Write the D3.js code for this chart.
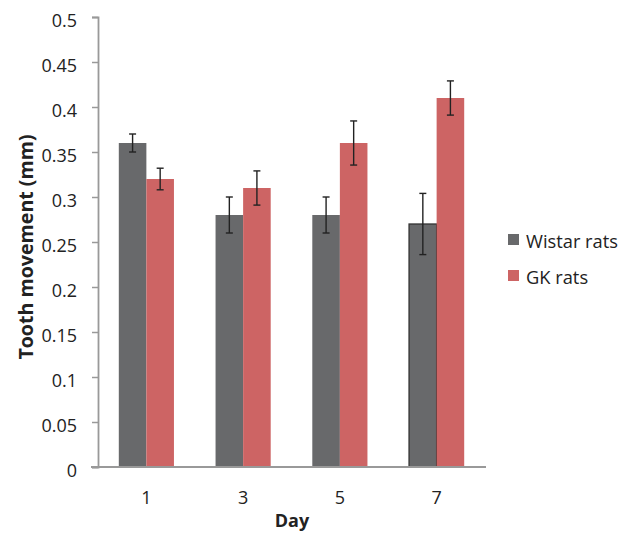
<!DOCTYPE html>
<html><head><meta charset="utf-8">
<script src="https://cdn.jsdelivr.net/npm/d3@7"></script>
<style>body{margin:0;background:#fff}svg{display:block}text{font-family:"Open Sans",sans-serif;fill:#222}</style>
</head><body>
<svg id="c" width="630" height="533"></svg>
<script>
const days = ["1","3","5","7"];
const seriesNames = ["Wistar rats","GK rats"];
const wistar = [0.36,0.28,0.28,0.27];
const wistarErr = [0.010,0.020,0.020,0.034];
const gk = [0.32,0.31,0.36,0.41];
const gkErr = [0.012,0.019,0.0245,0.019];
const yTicks = [0,0.05,0.1,0.15,0.2,0.25,0.3,0.35,0.4,0.45,0.5];
const colors = ["#68696b","#cd6464"];

const svg = d3.select("#c");
const y = d3.scaleLinear().domain([0,0.5]).range([467,17]);
const x = d3.scaleBand().domain(days).range([98,485]).paddingInner(0.43).paddingOuter(0.215);
const xs = d3.scaleBand().domain(seriesNames).range([0,x.bandwidth()]);

const data = [];
days.forEach((d,i)=>{
  data.push({day:d,s:seriesNames[0],v:wistar[i],e:wistarErr[i],c:colors[0]});
  data.push({day:d,s:seriesNames[1],v:gk[i],e:gkErr[i],c:colors[1]});
});

// bars
svg.append("g").selectAll("rect").data(data).join("rect")
  .attr("x",d=>x(d.day)+xs(d.s))
  .attr("y",d=>y(d.v))
  .attr("width",xs.bandwidth())
  .attr("height",d=>y(0)-y(d.v))
  .attr("fill",d=>d.c)
  .attr("stroke",d=> (d.day==="7"&&d.s==="Wistar rats")?"#333":"none")
  .attr("stroke-width",1.3);

// y axis
const yAxis = d3.axisLeft(y).tickValues(yTicks).tickSize(6).tickPadding(15).tickFormat(d=>String(+d.toFixed(2)));
const gy = svg.append("g").attr("transform","translate(98,0)").call(yAxis);
gy.select(".domain").attr("stroke","#999").attr("stroke-width",1.8);
gy.selectAll(".tick line").attr("stroke","#999").attr("stroke-width",1.5);
gy.selectAll(".tick text").attr("font-size",18).attr("fill","#222").attr("dy","0.5em")
  .attr("font-family","'Open Sans',sans-serif");

// x axis
const xAxis = d3.axisBottom(x).tickSize(0).tickPadding(24);
const gx = svg.append("g").attr("transform","translate(0,467)").call(xAxis);
gx.select(".domain").attr("stroke","#999").attr("stroke-width",1.8).attr("d","M91,0H486");
gx.selectAll(".tick text").attr("font-size",18).attr("fill","#222").attr("font-family","'Open Sans',sans-serif");

// error bars
const eb = svg.append("g").attr("stroke","#222").attr("stroke-width",1.4);
data.forEach(d=>{
  const cx = x(d.day)+xs(d.s)+xs.bandwidth()/2;
  eb.append("line").attr("x1",cx).attr("x2",cx).attr("y1",y(d.v+d.e)).attr("y2",y(d.v-d.e));
  eb.append("line").attr("x1",cx-3.5).attr("x2",cx+3.5).attr("y1",y(d.v+d.e)).attr("y2",y(d.v+d.e));
  eb.append("line").attr("x1",cx-3.5).attr("x2",cx+3.5).attr("y1",y(d.v-d.e)).attr("y2",y(d.v-d.e));
});

// axis titles
svg.append("text").attr("x",292).attr("y",527).attr("text-anchor","middle")
  .attr("font-size",18).attr("font-weight","bold").text("Day");
svg.append("text").attr("transform","translate(33,247) rotate(-90)").attr("text-anchor","middle")
  .attr("font-size",19.6).attr("font-weight","bold").text("Tooth movement (mm)");

// legend
const lg = svg.append("g");
seriesNames.forEach((s,i)=>{
  lg.append("rect").attr("x",508).attr("y",234+i*36).attr("width",11).attr("height",11).attr("fill",colors[i]);
  lg.append("text").attr("x",526).attr("y",241+i*36).attr("dy","0.38em").attr("font-size",18.3).text(s);
});
</script>
</body></html>
